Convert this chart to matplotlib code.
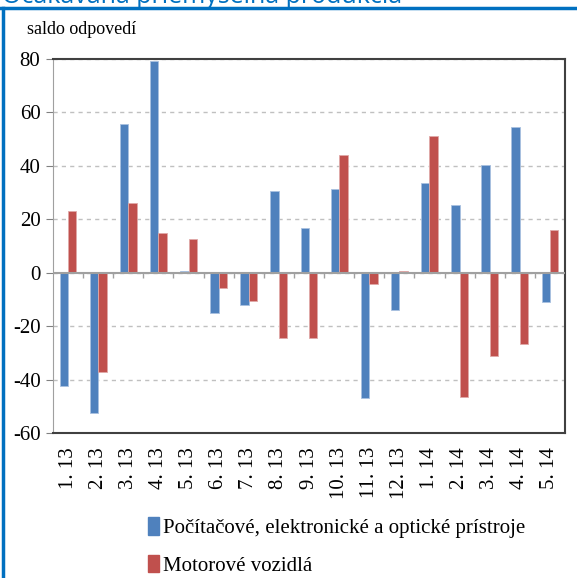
import matplotlib
matplotlib.use("Agg")
import matplotlib.pyplot as plt
from matplotlib.patches import Rectangle
from matplotlib.lines import Line2D
import numpy as np

# data
months = ["1. 13", "2. 13", "3. 13", "4. 13", "5. 13", "6. 13", "7. 13", "8. 13", "9. 13",
          "10. 13", "11. 13", "12. 13", "1. 14", "2. 14", "3. 14", "4. 14", "5. 14"]
electronics = [-42.5, -52.7, 55.7, 79.1, 0.5, -15.2, -11.9, 30.6, 16.7,
               31.2, -46.8, -13.9, 33.6, 25.5, 40.3, 54.7, -11.0]
vehicles = [23.1, -37.3, 26.0, 15.0, 12.6, -5.7, -10.6, -24.5, -24.5,
            44.2, -4.2, 0.7, 51.3, -46.4, -31.2, -26.7, 16.0]
series_names = ["Počítačové, elektronické a optické prístroje", "Motorové vozidlá"]

blue = "#4F81BD"
red = "#C0504D"
frame_blue = "#0070C0"
serif = "Liberation Serif"

W, H = 577, 578
fig = plt.figure(figsize=(W / 100, H / 100), dpi=100)

# outer blue frame (top + left) and the title, cut off by the top edge as in the source
fig.add_artist(Line2D([0, 1], [1 - 7.5 / H] * 2, color=frame_blue, lw=2.5, transform=fig.transFigure))
fig.add_artist(Line2D([2.5 / W] * 2, [0, 1 - 7.5 / H], color=frame_blue, lw=2.5, transform=fig.transFigure))
fig.text(2 / W, 1 - 3 / H, "Očakávaná priemyselná produkcia", color=frame_blue,
         fontsize=18, family="Open Sans", va="baseline", ha="left")

ax = fig.add_axes([53 / W, 1 - 433 / H, (565 - 53) / W, (433 - 59) / H])

x = np.arange(len(months))
bw = 0.28
ax.bar(x - bw / 2, electronics, bw, color=blue, edgecolor="#a9c1e0", linewidth=0.6, zorder=3)
ax.bar(x + bw / 2, vehicles, bw, color=red, edgecolor="#e0a9a8", linewidth=0.6, zorder=3)

ax.set_xlim(-0.5, len(months) - 0.5)
ax.set_ylim(-60, 80)
ax.set_yticks(np.arange(-60, 81, 20))
ax.set_yticklabels([str(v) for v in range(-60, 81, 20)], family=serif, fontsize=15)
ax.yaxis.grid(True, linestyle=(0, (3, 3)), color="#c0c0c0", lw=1, zorder=0)
ax.tick_params(axis="y", length=5, color="#808080", pad=4)

# zero line with category separators
ax.axhline(0, color="#a0a0a0", lw=1.5, zorder=4)
ax.vlines(x[:-1] + 0.5, -2.0, 0, color="#a0a0a0", lw=1, zorder=4)

ax.set_xticks(x)
ax.set_xticklabels(months, rotation=90, family=serif, fontsize=15, va="top")
ax.tick_params(axis="x", length=0, pad=10)

for side in ["top", "right", "bottom"]:
    ax.spines[side].set_color("#404040")
    ax.spines[side].set_linewidth(1.5)
ax.spines["left"].set_color("#a0a0a0")

fig.text(27 / W, 1 - 30 / H, "saldo odpovedí", family=serif, fontsize=13, va="center", ha="left")

# legend below the plot
handles = [Rectangle((0, 0), 1, 1, color=blue), Rectangle((0, 0), 1, 1, color=red)]
fig.legend(handles, series_names, loc="upper left", bbox_to_anchor=(140 / W, 1 - 509 / H),
           frameon=False, prop={"family": serif, "size": 15}, handlelength=0.5, handleheight=0.9,
           handletextpad=0.2, labelspacing=0.8, borderaxespad=0)

fig.savefig("out.png", dpi=100)
